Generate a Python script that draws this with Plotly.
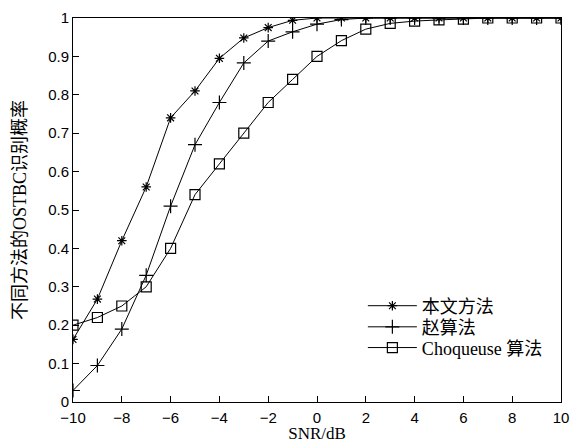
import plotly.graph_objects as go

snr = list(range(-10, 11))
ours = [0.163, 0.268, 0.42, 0.56, 0.74, 0.81, 0.895, 0.948, 0.975, 0.994, 1, 1, 1, 1, 1, 1, 1, 1, 1, 1, 1]
zhao = [0.03, 0.095, 0.19, 0.33, 0.51, 0.67, 0.78, 0.883, 0.94, 0.964, 0.984, 0.996, 1, 1, 1, 1, 1, 1, 1, 1, 1]
choq = [0.2, 0.22, 0.25, 0.3, 0.4, 0.54, 0.62, 0.7, 0.78, 0.84, 0.9, 0.941, 0.971, 0.986, 0.992, 0.995, 0.997, 1, 1, 1, 1]
names = ["本文方法", "赵算法", "Choqueuse 算法"]
symbols = ["asterisk-open", "cross-thin-open", "square-open"]
sizes = [8, 10, 10]
legend_ids = ["legend", "legend2", "legend3"]
legend_y = [0.25, 0.195, 0.141]

serif_cjk = "Liberation Serif, Times New Roman, Noto Sans CJK SC"
sans = "Liberation Sans, Arial, sans-serif"

fig = go.Figure()
for name, ys, sym, sz, lg in zip(names, [ours, zhao, choq], symbols, sizes, legend_ids):
    fig.add_trace(go.Scatter(
        x=snr, y=ys, name=name, mode="lines+markers", legend=lg,
        line=dict(color="black", width=1),
        marker=dict(symbol=sym, size=sz, color="black", line=dict(color="black", width=1.2)),
    ))

leg_common = dict(x=0.594, xanchor="left", yanchor="middle",
                  bgcolor="rgba(0,0,0,0)", font=dict(family=serif_cjk, size=18, color="black"),
                  itemwidth=49)
fig.update_layout(
    width=570, height=443,
    margin=dict(l=73, r=9, t=18, b=41, autoexpand=False),
    plot_bgcolor="white", paper_bgcolor="white",
    showlegend=True,
    legend=dict(y=legend_y[0], **leg_common),
    legend2=dict(y=legend_y[1], **leg_common),
    legend3=dict(y=legend_y[2], **leg_common),
    font=dict(family=sans, color="black"),
)
fig.update_xaxes(
    range=[-10, 10], tickvals=list(range(-10, 11, 2)),
    ticks="inside", ticklen=6, tickcolor="black", ticklabelstandoff=2,
    showline=True, linecolor="black", linewidth=1, mirror=True,
    showgrid=False, zeroline=False, automargin=False,
    tickfont=dict(family=sans, size=15, color="black"),
    title=dict(text="SNR/dB", font=dict(family=serif_cjk, size=17, color="black"), standoff=12),
)
fig.update_yaxes(
    range=[0, 1], tickvals=[i / 10 for i in range(11)],
    ticktext=["0", "0.1", "0.2", "0.3", "0.4", "0.5", "0.6", "0.7", "0.8", "0.9", "1"],
    ticks="inside", ticklen=6, tickcolor="black", ticklabelstandoff=0,
    showline=True, linecolor="black", linewidth=1, mirror=True,
    showgrid=False, zeroline=False, automargin=False,
    tickfont=dict(family=sans, size=15, color="black"),
    title=dict(text="不同方法的OSTBC识别概率", font=dict(family=serif_cjk, size=18, color="black"), standoff=16),
)
fig.write_html("out.html", config={"displayModeBar": False},
               post_script="document.body.style.margin='0';document.body.style.overflow='hidden';")
